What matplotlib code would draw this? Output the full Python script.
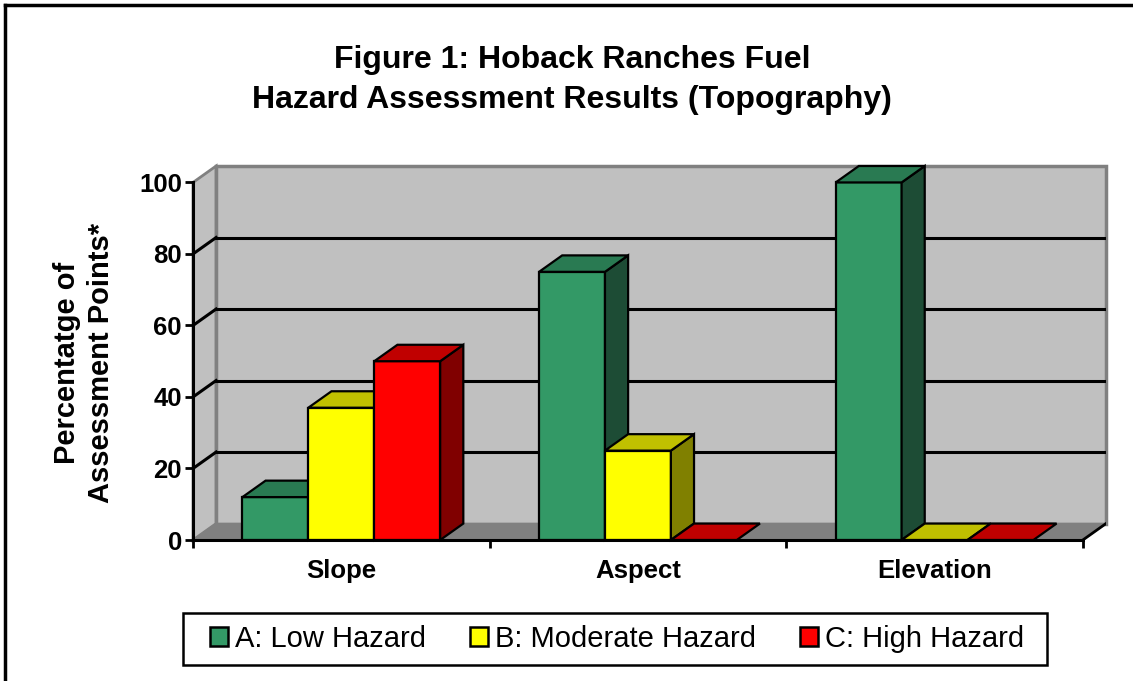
import numpy as np
import matplotlib.pyplot as plt
from matplotlib.patches import Polygon, Rectangle, Patch
from matplotlib.lines import Line2D

plt.rcParams['font.family'] = ['Liberation Sans', 'DejaVu Sans']

categories = ['Slope', 'Aspect', 'Elevation']
series = ['A: Low Hazard', 'B: Moderate Hazard', 'C: High Hazard']
low = [12, 75, 100]
moderate = [37, 25, 0]
high = [50, 0, 0]
yticks = [0, 20, 40, 60, 80, 100]

# front, top, side shades (Excel style 3D)
colors = [('#339966', '#297a52', '#1d4c35'),
          ('#ffff00', '#c0c000', '#808000'),
          ('#ff0000', '#c00000', '#800000')]

W, H = 1133, 681
fig = plt.figure(figsize=(W / 100, H / 100), dpi=100)

# depth of the 3d box in data units
ddx = 0.078
ddy = 4.6
ax = fig.add_axes([193 / W, (H - 540) / H, (1106 - 193) / W, (540 - 166) / H])
ax.set_xlim(0, 3 + ddx)
ax.set_ylim(0, 100 + ddy)
ax.patch.set_visible(False)

# walls and floor
ax.add_patch(Polygon([(0, 0), (ddx, ddy), (ddx, 100 + ddy), (0, 100)],
                     fc='#c0c0c0', ec='#808080', lw=2, zorder=1, clip_on=False))
ax.add_patch(Rectangle((ddx, ddy), 3, 100, fc='#c0c0c0', ec='#808080', lw=2.5,
                       zorder=1, clip_on=False))
ax.add_patch(Polygon([(0, 0), (3, 0), (3 + ddx, ddy), (ddx, ddy)],
                     fc='#808080', ec='#808080', lw=1, zorder=1, clip_on=False))
ax.add_line(Line2D([3, 3 + ddx], [0, ddy], color='black', lw=2, zorder=2))
for v in yticks[1:-1]:
    ax.add_line(Line2D([ddx, 3 + ddx], [v + ddy, v + ddy], color='black', lw=2.2, zorder=2))
    ax.add_line(Line2D([0, ddx], [v, v + ddy], color='black', lw=2.2, zorder=2))

# bars
bw = 1 / 4.5
start = 0.75 * bw
data = [low, moderate, high]
z = 3
for i in range(len(categories)):
    for j, vals in enumerate(data):
        h = vals[i]
        x0 = i + start + j * bw
        front, top, side = colors[j]
        if h > 0:
            ax.add_patch(Rectangle((x0, 0), bw, h, fc=front, ec='black', lw=1.6,
                                   zorder=z, clip_on=False))
            ax.add_patch(Polygon([(x0 + bw, 0), (x0 + bw + ddx, ddy), (x0 + bw + ddx, h + ddy),
                                  (x0 + bw, h)], fc=side, ec='black', lw=1.6,
                                 zorder=z, clip_on=False))
        ax.add_patch(Polygon([(x0, h), (x0 + bw, h), (x0 + bw + ddx, h + ddy), (x0 + ddx, h + ddy)],
                             fc=top, ec='black', lw=1.6, zorder=z, clip_on=False))
        z += 1

# axes
for s in ['top', 'right']:
    ax.spines[s].set_visible(False)
ax.spines['left'].set_bounds(0, 100)
ax.spines['bottom'].set_bounds(0, 3)
ax.spines['left'].set_linewidth(2.2)
ax.spines['bottom'].set_linewidth(2.2)
ax.spines['left'].set_zorder(20)
ax.spines['bottom'].set_zorder(20)
ax.set_yticks(yticks)
ax.set_yticklabels([str(v) for v in yticks], fontsize=18.5, fontweight='bold')
ax.tick_params(axis='y', direction='out', length=6, width=2, pad=2)
ax.set_xticks([0, 1, 2, 3])
ax.set_xticklabels([])
ax.tick_params(axis='x', which='major', direction='out', length=6, width=2)
ax.set_xticks([0.5, 1.5, 2.5], minor=True)
ax.set_xticklabels(categories, minor=True, fontsize=18.5, fontweight='bold')
ax.tick_params(axis='x', which='minor', length=0, pad=14)

fig.text(572 / W, 1 - 80 / H, 'Figure 1: Hoback Ranches Fuel\nHazard Assessment Results (Topography)',
         ha='center', va='center', fontsize=23, fontweight='bold', linespacing=1.45)
fig.text(84 / W, 1 - 363 / H, 'Percentatge of\nAssessment Points*', rotation=90,
         ha='center', va='center', fontsize=21, fontweight='bold', linespacing=1.3)

# legend
handles = [Patch(fc=c[0], ec='black', lw=1.8) for c in colors]
leg = fig.legend(handles, series, loc='center', ncol=3, mode='expand',
                 bbox_to_anchor=(204 / W, (H - 665) / H, (1030 - 204) / W, 52 / H),
                 fontsize=21, frameon=False, handlelength=0.62, handleheight=0.62,
                 handletextpad=0.25, borderpad=0.2, borderaxespad=0)
fig.add_artist(Rectangle((183 / W, (H - 665) / H), 864 / W, 52 / H, fill=False,
                         ec='black', lw=1.8, transform=fig.transFigure))

# outer border (only top and left visible)
fig.add_artist(Line2D([5 / W, 1], [1 - 5 / H, 1 - 5 / H], color='black', lw=2.5))
fig.add_artist(Line2D([5 / W, 5 / W], [0, 1 - 5 / H], color='black', lw=2.5))

fig.savefig('out.png', dpi=100)
